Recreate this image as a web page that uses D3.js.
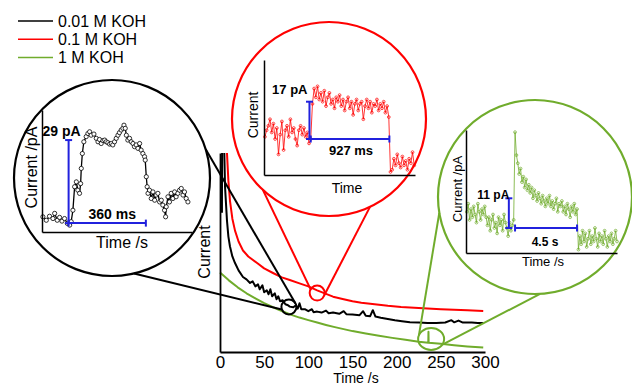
<!DOCTYPE html>
<html>
<head>
<meta charset="utf-8">
<script src="https://cdn.jsdelivr.net/npm/d3@7"></script>
<style>
body { margin: 0; background: #fff; }
svg { display: block; font-family: "Liberation Sans", Arial, sans-serif; }
</style>
</head>
<body>
<svg id="chart" width="632" height="385"></svg>
<script>
// legend
const seriesNames = ['0.01 M KOH', '0.1 M KOH', '1 M KOH'];
const seriesColors = ['#000000', '#ff0000', '#70ac2c'];

const timeTicks = [0, 50, 100, 150, 200, 250, 300];

// main decay curves, [time /s, current (arb.)]
const curve001 = [[2.2, 70], [2.4, 110], [4.4, 110], [5.7, 83], [7.9, 66], [9.5, 58], [11.3, 53], [14, 48], [17, 44.7],
  [21, 41], [26, 37.7], [30, 36.5], [34, 34.7], [37, 35.5], [40, 33], [43, 34], [45, 31.5], [48, 33.5], [50, 30],
  [53, 31], [55, 29], [57, 31.5], [59, 28], [62, 29.5], [64, 26.5], [66, 28], [68, 25.5], [71, 26], [74, 24],
  [77, 23.5], [79, 22.8], [83, 22.5], [86, 23.5], [88, 21.8], [90, 24.5], [92, 21.5], [96, 21.5], [100, 20.5],
  [104, 21.5], [106, 20], [110, 20.3], [115, 19.8], [120, 20.8], [123, 19.5], [128, 19.8], [135, 19.2], [140, 20.5],
  [143, 19], [150, 18.8], [158, 18.5], [162, 20.5], [165, 18.2], [170, 18], [173, 21], [176, 17.8], [182, 17.2],
  [190, 16.6], [198, 16], [206, 15.5], [215, 15], [225, 14.8], [235, 14.6], [245, 14.6], [255, 14.8], [262, 16],
  [265, 14.9], [270, 15.8], [275, 14.8], [285, 14.8], [292, 14.6], [298, 14.6]];
const curve01 = [[7.9, 100], [9.5, 86], [11.3, 76], [14, 67], [17, 61], [21, 55.5], [26, 51], [32, 48], [42, 44.7],
  [50, 42], [60, 39.7], [70, 37.5], [79, 36.2], [90, 34.5], [100, 33], [110, 31], [120, 29.2], [128, 27.8],
  [140, 26.5], [150, 25.5], [160, 24.8], [175, 24], [190, 23.2], [205, 22.6], [220, 22.2], [235, 21.8],
  [250, 21.5], [265, 21.2], [280, 21], [298, 20.6]];
const curve1 = [[0, 40], [10, 36], [20, 32.5], [30, 29.5], [40, 27], [50, 24.6], [60, 22.5], [70, 20.6], [80, 18.8],
  [90, 17.3], [100, 16], [110, 14.8], [120, 13.6], [130, 12.5], [140, 11.5], [150, 10.5], [165, 9.3], [180, 8.2],
  [195, 7.1], [210, 6.1], [225, 5.2], [235.8, 4.7], [236, 10.2], [236.2, 4.7], [250, 4.1], [265, 3.4], [280, 2.8],
  [298, 2.2]];

// spots that are blown up in the insets, [time /s, current]
const zoomSpots = [[78, 22.6], [110, 29.6], [239, 6.5]];

// black inset event, [ms, pA]
const blackEvent = [[-120, 2.2], [-104, 1.0], [-89, 2.4], [-73, 1.6], [-65, 3.4], [-53, 1.0], [-42, 2.0], [-31, 0.7],
  [-19, 1.6], [-6, -0.1], [5, -0.7], [12, 0.5], [20, 4.5], [28, 12.7], [36, 14.4], [43, 11.5], [51, 10.4], [56, 13.8],
  [59, 19.1], [64, 24.3], [71, 28.4], [82, 30.2], [90, 31.3], [98, 31.9], [105, 30.7], [118, 31.1], [129, 29.6],
  [137, 28.4], [144, 29.2], [152, 27.8], [160, 28.8], [168, 29.0], [175, 28.4], [183, 28.1], [191, 27.6], [199, 27.8],
  [206, 27.3], [214, 28.4], [222, 29.6], [230, 30.7], [237, 31.6], [245, 32.5], [253, 33.1], [258, 34.2], [264, 33.1],
  [269, 30.7], [276, 29.0], [284, 29.6], [292, 28.4], [300, 27.8], [307, 26.7], [315, 27.3], [323, 26.1], [331, 27.8],
  [338, 25.5], [346, 24.3], [354, 23.2], [357, 22.0], [362, 16.2], [366, 12.7], [370, 10.4], [377, 11.5], [385, 8.6],
  [393, 10.9], [401, 8.0], [408, 9.8], [416, 10.4], [424, 7.4], [432, 8.0], [439, 6.3], [447, 4.5], [452, 2.2],
  [455, 5.7], [463, 9.2], [470, 7.4], [478, 10.4], [486, 8.6], [494, 10.9], [501, 9.2], [509, 10.4], [517, 11.5],
  [525, 12.1], [533, 9.8], [540, 10.9], [548, 8.6], [556, 7.4]];

// red inset event, pA sampled every 20 ms from -540 ms
const redStart = -540, redStep = 20;
const redEvent = [1, 4, 6, 9, 3, 7, 0, 5, -7, 2, 8, -5, 4, 6, 1, 9, 3, 5, 0, -3, 4, 6, 2, 5, 1, 3, -2, 0,
  16, 23, 19, 24, 18, 21, 17, 22, 15, 19, 21, 16, 18, 14, 19, 17, 20, 15, 18, 13, 17, 19, 14, 17, 11, 16, 18, 13,
  16, 17, 9, 15, 18, 14, 17, 12, 16, 15, 18, 13, 16, 14, 17, 12, 15, 10,
  -15, -14, -9, -12, -7, -11, -13, -8, -12, -10, -14, -9, -11, -6, -12];

// green inset event, pA sampled every 0.1 s from -3.5 s
const greenStart = -3.5, greenStep = 0.1;
const greenEvent = [6, 9, 3, 7, 4, 8, 5, 2, 9, 6, 3, 7, 5, 8, 4,
  1, 4, -1, 3, 5, 0, 2, -2, 4, 1, 3, -1, 5, 2, 0, -3, 2, -1, 1, 3,
  35.5, 27, 24, 20, 22, 17, 19, 15, 18, 14, 16, 13, 15, 11, 14, 12, 10, 13, 11, 9, 12, 10, 8, 11, 9, 12, 8, 10,
  7, 9, 11, 6, 9, 8, 10, 6, 8, 5, 9, 7, 4, 8, 6, 9, 5, 7,
  -8, -3, -6, -1, -5, -2, -7, -4, -1, -6, -3, -5, 0, -4, -7, -2, -5, -3, -6, -1, -4, -7, -3, -5, -2, -6, -4, -1, -5];

const eventAmps = [29, 17, 11];
const eventDurations = [360, 927, 4.5];
const ampLabels = ['29 pA', '17 pA', '11 pA'];
const durLabels = ['360 ms', '927 ms', '4.5 s'];
const insetYTitles = ['Current /pA', 'Current', 'Current /pA'];
const insetXTitles = ['Time /s', 'Time', 'Time /s'];

const blue = '#2121dd';
const svg = d3.select('#chart');

// main plot scales
const x = d3.scaleLinear().domain([0, 300]).range([220, 485]);
const y = d3.scaleLinear().domain([0, 100]).range([352, 153]);

svg.append('clipPath').attr('id', 'plotclip')
  .append('rect').attr('x', 219).attr('y', 153).attr('width', 270).attr('height', 200);

const line = d3.line().x(d => x(d[0])).y(d => y(d[1]));
const curves = [curve001, curve01, curve1];

// draw green first so black sits on top
[2, 1, 0].forEach(i => {
  svg.append('path')
    .attr('clip-path', 'url(#plotclip)')
    .attr('d', line(curves[i]))
    .attr('fill', 'none')
    .attr('stroke', seriesColors[i])
    .attr('stroke-width', 2)
    .attr('stroke-linejoin', 'round');
});

// axes
const xAxis = svg.append('g').attr('transform', 'translate(0,352)')
  .call(d3.axisBottom(x).tickValues(timeTicks).tickSize(0).tickPadding(4).tickSizeOuter(0));
xAxis.select('.domain').attr('stroke-width', 1.8);
xAxis.selectAll('text').attr('font-size', 17).attr('font-family', 'Liberation Sans, Arial, sans-serif').attr('fill', '#000');

const yAxis = svg.append('g').attr('transform', 'translate(220,0)')
  .call(d3.axisLeft(y).tickValues([]).tickSizeOuter(0));
yAxis.select('.domain').attr('stroke-width', 1.8);

svg.append('text').attr('x', 356).attr('y', 383).attr('text-anchor', 'middle')
  .attr('font-size', 14).text('Time /s');
svg.append('text').attr('transform', 'translate(210,252) rotate(-90)').attr('text-anchor', 'middle')
  .attr('font-size', 16).text('Current');

// legend
seriesNames.forEach((name, i) => {
  const ly = 21 + i * 18.2;
  svg.append('line').attr('x1', 18).attr('x2', 53).attr('y1', ly).attr('y2', ly)
    .attr('stroke', seriesColors[i]).attr('stroke-width', 1.5);
  svg.append('text').attr('x', 58).attr('y', ly + 5.7).attr('font-size', 16).text(name);
});

// inset layout (pixel boxes and magnifier circles)
const insets = [
  { box: {l: 42, t: 110, r: 192, b: 232}, xDomain: [-124, 575], yDomain: [-3.1, 39.5],
    circle: {cx: 112, cy: 178, r: 98}, spot: {rx: 7.5, ry: 7.5}, links: [[-17, -30], [77, 160]],
    barX: 0, ampOffset: [12, -4], durOffset: [5, -4], fontSize: 16, labelSize: 14,
    yTitle: [37, 167.5], xTitle: [122, 248] },
  { box: {l: 264, t: 60, r: 415, b: 175}, xDomain: [-551, 1229], yDomain: [-16.4, 36],
    circle: {cx: 329, cy: 119, r: 97}, spot: {rx: 7.5, ry: 7.5}, links: [[133, 210], [65, 15]],
    barX: -15, ampOffset: [-2, -8], durOffset: [1, 16], fontSize: 14, labelSize: 13,
    yTitle: [258, 115], xTitle: [347, 193] },
  { box: {l: 466, t: 130, r: 617, b: 253}, xDomain: [-3.56, 7.4], yDomain: [-9.26, 36.3],
    circle: {cx: 535, cy: 197, r: 97}, spot: {rx: 13, ry: 11}, links: [[170.6, 200], [87, 30]],
    barX: -0.45, ampOffset: [0.5, 1], durOffset: [-1, 18], fontSize: 13, labelSize: 12,
    yTitle: [462, 189], xTitle: [543, 266] }
];

const events = [
  blackEvent,
  redEvent.map((v, i) => [redStart + i * redStep, v]),
  greenEvent.map((v, i) => [greenStart + i * greenStep, v])
];

const rad = a => a * Math.PI / 180;

insets.forEach((ins, k) => {
  const color = seriesColors[k];
  const g = svg.append('g');

  // small circle on the main curve
  const sx = x(zoomSpots[k][0]), sy = y(zoomSpots[k][1]);
  g.append('ellipse').attr('cx', sx).attr('cy', sy).attr('rx', ins.spot.rx).attr('ry', ins.spot.ry)
    .attr('fill', 'none').attr('stroke', color).attr('stroke-width', 2);

  // magnifier lines
  ins.links.forEach(l => {
    g.append('line')
      .attr('x1', ins.circle.cx + ins.circle.r * Math.cos(rad(l[0])))
      .attr('y1', ins.circle.cy + ins.circle.r * Math.sin(rad(l[0])))
      .attr('x2', sx + ins.spot.rx * Math.cos(rad(l[1])))
      .attr('y2', sy + ins.spot.ry * Math.sin(rad(l[1])))
      .attr('stroke', color).attr('stroke-width', 2);
  });

  g.append('circle').attr('cx', ins.circle.cx).attr('cy', ins.circle.cy).attr('r', ins.circle.r)
    .attr('fill', 'none').attr('stroke', color).attr('stroke-width', 2.2);

  const ix = d3.scaleLinear().domain(ins.xDomain).range([ins.box.l, ins.box.r]);
  const iy = d3.scaleLinear().domain(ins.yDomain).range([ins.box.b, ins.box.t]);

  // trace
  const data = events[k];
  const dense = k > 0;
  g.append('path')
    .attr('d', d3.line().x(d => ix(d[0])).y(d => iy(d[1]))(data))
    .attr('fill', 'none').attr('stroke', color).attr('stroke-width', dense ? 0.8 : 1.3);
  g.selectAll('circle.pt').data(data).join('circle').attr('class', 'pt')
    .attr('cx', d => ix(d[0])).attr('cy', d => iy(d[1]))
    .attr('r', dense ? 1.4 : 2.1)
    .attr('fill', dense ? 'none' : '#fff')
    .attr('stroke', color).attr('stroke-width', dense ? 0.7 : 0.8);

  // inset axes, left and bottom only
  g.append('g').attr('transform', `translate(0,${ins.box.b})`)
    .call(d3.axisBottom(ix).tickValues([]).tickSizeOuter(0))
    .select('.domain').attr('stroke-width', 1.5);
  g.append('g').attr('transform', `translate(${ins.box.l},0)`)
    .call(d3.axisLeft(iy).tickValues([]).tickSizeOuter(0))
    .select('.domain').attr('stroke-width', 1.5);

  g.append('text').attr('transform', `translate(${ins.yTitle[0]},${ins.yTitle[1]}) rotate(-90)`)
    .attr('text-anchor', 'middle').attr('font-size', ins.fontSize).text(insetYTitles[k]);
  g.append('text').attr('x', ins.xTitle[0]).attr('y', ins.xTitle[1])
    .attr('text-anchor', 'middle').attr('font-size', ins.fontSize).text(insetXTitles[k]);

  // amplitude / duration bars
  const bx = ix(ins.barX), b0 = iy(0), bTop = iy(eventAmps[k]);
  const h0 = ix(0), h1 = ix(eventDurations[k]);
  const bars = [
    [bx, b0, bx, bTop], [bx - 3.5, bTop, bx + 3.5, bTop], [bx - 3.5, b0, bx + 3.5, b0],
    [h0, b0, h1, b0], [h0, b0 - 3.5, h0, b0 + 3.5], [h1, b0 - 3.5, h1, b0 + 3.5]
  ];
  g.selectAll('line.bar').data(bars).join('line').attr('class', 'bar')
    .attr('x1', d => d[0]).attr('y1', d => d[1]).attr('x2', d => d[2]).attr('y2', d => d[3])
    .attr('stroke', blue).attr('stroke-width', 2);

  g.append('text').attr('x', bx + ins.ampOffset[0]).attr('y', bTop + ins.ampOffset[1])
    .attr('text-anchor', 'end').attr('font-weight', 'bold').attr('font-size', ins.labelSize)
    .text(ampLabels[k]);
  g.append('text').attr('x', (h0 + h1) / 2 + ins.durOffset[0]).attr('y', b0 + ins.durOffset[1])
    .attr('text-anchor', 'middle').attr('font-weight', 'bold').attr('font-size', ins.labelSize)
    .text(durLabels[k]);
});
</script>
</body>
</html>
